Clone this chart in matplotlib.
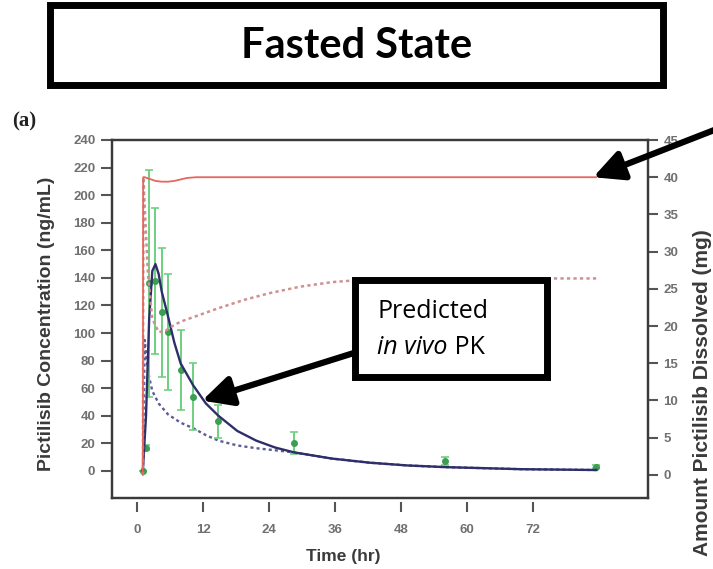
import matplotlib
matplotlib.use('Agg')
import matplotlib.pyplot as plt
from matplotlib.patches import Rectangle

# ---------------- data ----------------
# predicted amount dissolved (mg, right axis)
t_diss = [0, 0.05, 0.3, 1, 2, 3, 4, 5, 6, 7, 8.5, 12, 24, 48, 72]
amt_diss = [0, 40.0, 40.0, 39.8, 39.5, 39.4, 39.4, 39.5, 39.7, 39.9, 40.0, 40.0, 40.0, 40.0, 40.0]

t_diss2 = [0, 0.1, 0.3, 0.8, 1.5, 2.5, 3.5, 4.5, 6, 9, 12, 16, 20, 25, 30, 36, 45, 72]
amt_diss2 = [0, 40.0, 36.0, 27.0, 21.0, 19.2, 19.3, 19.9, 20.6, 21.5, 22.4, 23.5, 24.4, 25.3, 25.9, 26.3, 26.4, 26.4]

# predicted plasma concentration (ng/mL, left axis)
t_pk = [0, 0.5, 1.0, 1.5, 2.0, 2.5, 3, 4, 5, 6, 8, 10, 12, 15, 18, 21, 24, 30, 36, 42, 48, 60, 72]
conc_pk = [0, 40, 110, 145, 150, 143, 130, 112, 93, 78, 62, 49, 40, 29, 22, 17, 13.5, 9, 6, 4, 2.8, 1.3, 0.7]

t_pk2 = [0, 0.3, 0.6, 1, 1.5, 2.5, 4, 6, 8, 10, 12, 15, 18, 21, 24, 30, 36, 42, 48, 60, 72]
conc_pk2 = [0, 95, 80, 68, 58, 49, 41, 35, 31, 26, 22, 18.5, 16.5, 15, 13.5, 9, 6, 4, 2.8, 1.3, 0.7]

# observed concentrations (mean +/- SD)
t_obs = [0, 0.5, 1, 2, 3, 4, 6, 8, 12, 24, 48, 72]
c_obs = [0, 17, 136, 138, 115, 101, 73, 54, 36, 20, 7, 3]
c_sd = [0, 2, 82, 53, 47, 42, 29, 24, 12, 8, 3, 1]

x_ticks = [0, 12, 24, 36, 48, 60, 72]
yl_ticks = list(range(0, 241, 20))
yr_ticks = list(range(0, 46, 5))

# ---------------- figure ----------------
W, H = 713, 569
fig = plt.figure(figsize=(W / 100, H / 100), dpi=100)
fig.patch.set_facecolor('white')


def fx(px):
    return px / W


def fy(py):
    return 1 - py / H


ax = fig.add_axes([fx(112), fy(498), fx(648) - fx(112), fy(140) - fy(498)])
ax2 = ax.twinx()
axt = ax.twiny()

spine_c = '#3a3a3a'
tick_c = '#707070'
tfont = dict(family='Liberation Sans', weight='bold', size=9.5)

for a in (ax, ax2):
    for s in a.spines.values():
        s.set_color(spine_c)
        s.set_linewidth(1.6)
for s in axt.spines.values():
    s.set_visible(False)

ax.set_xlim(-4.9, 80.2)
ax.set_ylim(-19.6, 240)
ax2.set_ylim(-3.1, 45)
ax.set_xticks([])

ax.set_yticks(yl_ticks)
ax.tick_params(axis='y', direction='out', length=8, width=1.5, color='#555555',
               labelcolor=tick_c, pad=4)
ax2.set_yticks(yr_ticks)
ax2.tick_params(axis='y', direction='out', length=7, width=1.5, color='#555555',
                labelcolor=tick_c, pad=4)
for lab in ax.get_yticklabels() + ax2.get_yticklabels():
    lab.set_fontproperties(matplotlib.font_manager.FontProperties(**tfont))

# tick axis for time labels
axt.set_xlim(-4.55, 92.9)
axt.xaxis.set_ticks_position('bottom')
axt.xaxis.set_label_position('bottom')
axt.spines['bottom'].set_position(('outward', 3))
axt.set_xticks(x_ticks)
axt.tick_params(axis='x', direction='out', length=7, width=1.5, color='#555555',
                labelcolor=tick_c, pad=9)
for lab in axt.get_xticklabels():
    lab.set_fontproperties(matplotlib.font_manager.FontProperties(**tfont))

# curves
ax2.plot(t_diss, amt_diss, color='#e6675f', lw=1.3, zorder=3)
ax2.plot(t_diss2, amt_diss2, color='#cf9090', lw=1.8, ls=(0, (1.3, 1.3)), zorder=2)
ax.plot(t_pk2, conc_pk2, color='#5c5c98', lw=1.7, ls=(0, (1.3, 1.3)), zorder=3)
ax.errorbar(t_obs, c_obs, yerr=c_sd, fmt='o', ms=4, color='#3c9e50',
            ecolor='#6fcf80', elinewidth=1.4, capsize=3, capthick=1.2, zorder=4)
ax.plot(t_pk, conc_pk, color='#2e2e6a', lw=1.7, zorder=5)

# axis labels
lab_font = dict(family='Liberation Sans', weight='bold', color='#3a3a3a')
fig.text(fx(47), fy(324), 'Pictilisib Concentration (ng/mL)', rotation=90,
         ha='center', va='center', size=14, **lab_font)
fig.text(fx(703), fy(556), 'Amount Pictilisib Dissolved (mg)', rotation=90,
         ha='center', va='bottom', size=15, **lab_font)
fig.text(fx(343), fy(557), 'Time (hr)', ha='center', va='center', size=12.5, **lab_font)

fig.text(fx(12), fy(121), '(a)', ha='left', va='center', size=15,
         family='Liberation Serif', weight='bold', color='#222222')

# title box
fig.add_artist(Rectangle((fx(50), fy(85)), fx(663) - fx(50), fy(5) - fy(85),
                         transform=fig.transFigure, fill=False, ec='black',
                         lw=5, zorder=10))
fig.text(fx(357), fy(46), 'Fasted State', ha='center', va='center', size=30,
         family='Lato', weight='bold', color='black', zorder=11)

# predicted box
fig.add_artist(Rectangle((fx(355), fy(377)), fx(547) - fx(355), fy(280) - fy(377),
                         transform=fig.transFigure, fc='white', ec='black',
                         lw=5, zorder=10))
fig.text(fx(377), fy(312), 'Predicted', ha='left', va='center', size=18,
         family='Open Sans', color='black', zorder=11)
t1 = fig.text(fx(377), fy(348), 'in vivo', ha='left', va='center', size=18,
              family='Open Sans', style='italic', color='black', zorder=11)
r = fig.canvas.get_renderer()
bb = t1.get_window_extent(renderer=r)
fig.text(bb.x1 / W, fy(348), ' PK', ha='left', va='center', size=18,
         family='Open Sans', color='black', zorder=11)

arrow = dict(arrowstyle='-|>,head_length=0.9,head_width=0.45', lw=4.5,
             color='black', shrinkA=0, shrinkB=0, mutation_scale=20)
ax2.annotate('', xy=(71.5, 40), xycoords='data', xytext=(fx(722), fy(127)),
             textcoords='figure fraction', arrowprops=arrow, annotation_clip=False)
ax.annotate('', xy=(9.4, 51), xycoords='data', xytext=(fx(357), fy(352)),
            textcoords='figure fraction', arrowprops=arrow, annotation_clip=False)

fig.savefig('out.png', dpi=100)
